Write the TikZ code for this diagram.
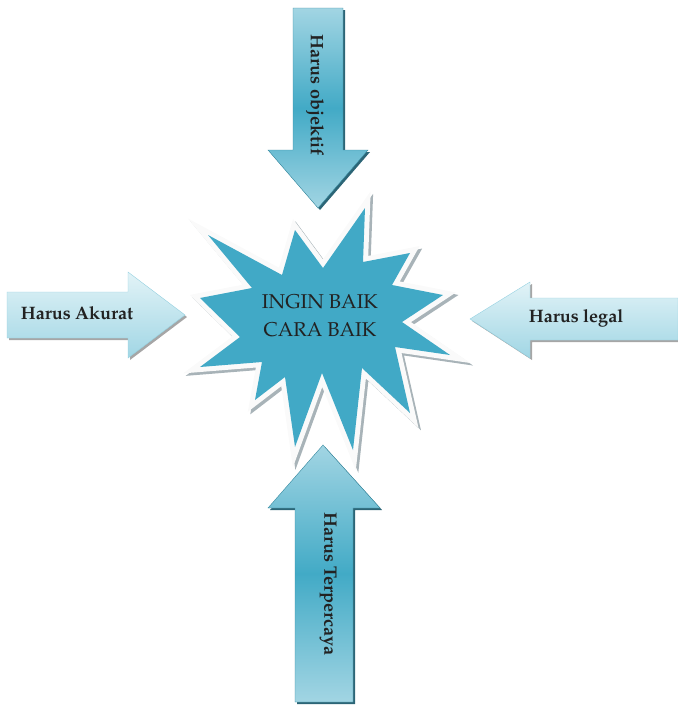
\documentclass[tikz,border=0pt]{standalone}
\usepackage[T1]{fontenc}
\usepackage{mathpazo}
\usetikzlibrary{calc}
\definecolor{starblue}{HTML}{41A9C6}
\definecolor{txt}{HTML}{222222}
\definecolor{vlight}{HTML}{A2D5E3}
\definecolor{vmid}{HTML}{42AAC6}
\definecolor{hlight}{HTML}{E2F3F7}
\definecolor{hmid}{HTML}{B8E1EC}
\definecolor{shadowteal}{HTML}{2C6576}
\definecolor{starshadow}{HTML}{A8B3B8}
\tikzset{
  lbl/.style={font=\fontsize{18}{20}\selectfont\bfseries, text=txt, inner sep=0pt},
  centertxt/.style={font=\fontsize{20}{28}\selectfont, text=txt, align=center, inner sep=0pt},
  vshade/.style={top color=vlight, bottom color=vlight, middle color=vmid},
  hshade/.style={top color=hlight, bottom color=hmid!80!vmid},
  ashadow/.style={fill=shadowteal},
}
\begin{document}
\begin{tikzpicture}[x=1pt,y=-1pt]
\useasboundingbox (0,0) rectangle (678,705);
% star
\def\starpath{(208,235) -- (282,275) -- (295,230) -- (323,268) -- (365,208) -- (363,262) -- (410,253) -- (392,285) -- (443,295) -- (402,322) -- (450,355) -- (395,347) -- (410,413) -- (362,368) -- (353,450) -- (322,373) -- (295,447) -- (285,377) -- (255,400) -- (262,362) -- (200,367) -- (240,337) -- (200,298) -- (252,288) -- cycle}
\begin{scope}[shift={(2.5,2.5)}]
\draw[starshadow, fill=starshadow, line width=10pt, line join=miter, miter limit=20] \starpath;
\end{scope}
\draw[white!96!gray, fill=white, line width=10pt, line join=miter, miter limit=20] \starpath;
\fill[starblue] \starpath;
\node[centertxt] (c) at (320,316) {INGIN BAIK\\CARA BAIK};
% top arrow
\fill[ashadow] (295,10) -- (345,10) -- (345,152) -- (370,152) -- (320,210) -- (270,152) -- (295,152) -- cycle;
\shade[vshade, draw=vmid!80!black, line width=0.4pt] (293,8) -- (343,8) -- (343,150) -- (368,150) -- (318,208) -- (268,150) -- (293,150) -- cycle;
\node[lbl, rotate=-90] (top) at (315,95) {Harus objektif};
% bottom arrow
\fill[ashadow] (325,447) -- (382,510) -- (355,510) -- (355,704) -- (297,704) -- (297,510) -- (270,510) -- cycle;
\shade[vshade, draw=vmid!80!black, line width=0.4pt] (323,445) -- (380,508) -- (353,508) -- (353,702) -- (295,702) -- (295,508) -- (268,508) -- cycle;
\node[lbl, rotate=-90] (bot) at (328,584) {Harus Terpercaya};
% left arrow
\fill[gray!70] (9,294) -- (130,294) -- (130,274) -- (187,317) -- (130,360) -- (130,340) -- (9,340) -- cycle;
\shade[hshade, draw=hmid!70!vmid, line width=0.4pt] (7,292) -- (128,292) -- (128,272) -- (185,315) -- (128,358) -- (128,338) -- (7,338) -- cycle;
\node[lbl] (left) at (77,313) {Harus Akurat};
% right arrow
\fill[gray!70] (680,300) -- (532,300) -- (532,284) -- (472,321) -- (532,360) -- (532,342) -- (680,342) -- cycle;
\shade[hshade, draw=hmid!70!vmid, line width=0.4pt] (678,298) -- (530,298) -- (530,282) -- (470,319) -- (530,358) -- (530,340) -- (678,340) -- cycle;
\node[lbl] (right) at (576,318) {Harus legal};
\end{tikzpicture}
\end{document}
